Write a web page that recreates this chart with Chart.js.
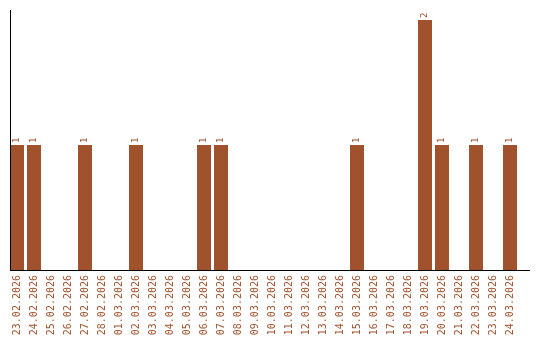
<!DOCTYPE html>
<html>
<head>
<meta charset="utf-8">
<script src="https://cdn.jsdelivr.net/npm/chart.js@4/dist/chart.umd.min.js"></script>
<style>
  html, body { margin: 0; padding: 0; background: #fff; }
  #wrap { width: 540px; height: 340px; }
</style>
</head>
<body>
<div id="wrap"><canvas id="grafico" width="540" height="340"></canvas></div>
<script>
// Fechas (categorias)
const fechas = [
  '23.02.2026', '24.02.2026', '25.02.2026', '26.02.2026', '27.02.2026',
  '28.02.2026', '01.03.2026', '02.03.2026', '03.03.2026', '04.03.2026',
  '05.03.2026', '06.03.2026', '07.03.2026', '08.03.2026', '09.03.2026',
  '10.03.2026', '11.03.2026', '12.03.2026', '13.03.2026', '14.03.2026',
  '15.03.2026', '16.03.2026', '17.03.2026', '18.03.2026', '19.03.2026',
  '20.03.2026', '21.03.2026', '22.03.2026', '23.03.2026', '24.03.2026'
];
// Valores por dia
const valores = [
  1, 1, 0, 0, 1,
  0, 0, 1, 0, 0,
  0, 1, 1, 0, 0,
  0, 0, 0, 0, 0,
  1, 0, 0, 0, 2,
  1, 0, 1, 0, 1
];

const colorBarra = '#A0522D';

// Etiquetas de valor giradas encima de cada barra
const etiquetasPlugin = {
  id: 'etiquetas',
  afterDatasetsDraw(chart) {
    const ctx = chart.ctx;
    const meta = chart.getDatasetMeta(0);
    ctx.save();
    ctx.fillStyle = colorBarra;
    ctx.font = '9px "DejaVu Sans Mono"';
    ctx.textAlign = 'left';
    ctx.textBaseline = 'middle';
    meta.data.forEach((bar, i) => {
      const v = valores[i];
      if (!v) return;
      ctx.save();
      ctx.translate(bar.x, bar.y - 2);
      ctx.rotate(-Math.PI / 2);
      ctx.fillText(String(v), 0, 0);
      ctx.restore();
    });
    ctx.restore();
  }
};

// Lineas de los ejes
const ejesPlugin = {
  id: 'ejes',
  afterDraw(chart) {
    const ctx = chart.ctx;
    const y0 = chart.scales.y.getPixelForValue(0);
    ctx.save();
    ctx.strokeStyle = '#000';
    ctx.lineWidth = 1;
    ctx.beginPath();
    ctx.moveTo(10.5, 10);
    ctx.lineTo(10.5, y0);
    ctx.moveTo(10, Math.round(y0) + 0.5);
    ctx.lineTo(530, Math.round(y0) + 0.5);
    ctx.stroke();
    ctx.restore();
  }
};

const ctx = document.getElementById('grafico').getContext('2d');
const grafico = new Chart(ctx, {
  type: 'bar',
  data: {
    labels: fechas,
    datasets: [{
      data: valores,
      backgroundColor: colorBarra,
      borderWidth: 0,
      categoryPercentage: 1,
      barPercentage: 14 / 17
    }]
  },
  options: {
    responsive: false,
    animation: false,
    layout: { padding: { left: 8.5, right: 21.5, top: 20, bottom: 0 } },
    plugins: { legend: { display: false }, tooltip: { enabled: false } },
    scales: {
      x: {
        grid: { display: false, drawTicks: false },
        border: { display: false },
        ticks: {
          color: colorBarra,
          font: { family: 'DejaVu Sans Mono', size: 10 },
          minRotation: 90,
          maxRotation: 90,
          autoSkip: false,
          padding: 5
        },
        afterFit(scale) { scale.height = 70; }
      },
      y: {
        display: false,
        min: 0,
        max: 2
      }
    }
  },
  plugins: [etiquetasPlugin, ejesPlugin]
});
</script>
</body>
</html>
